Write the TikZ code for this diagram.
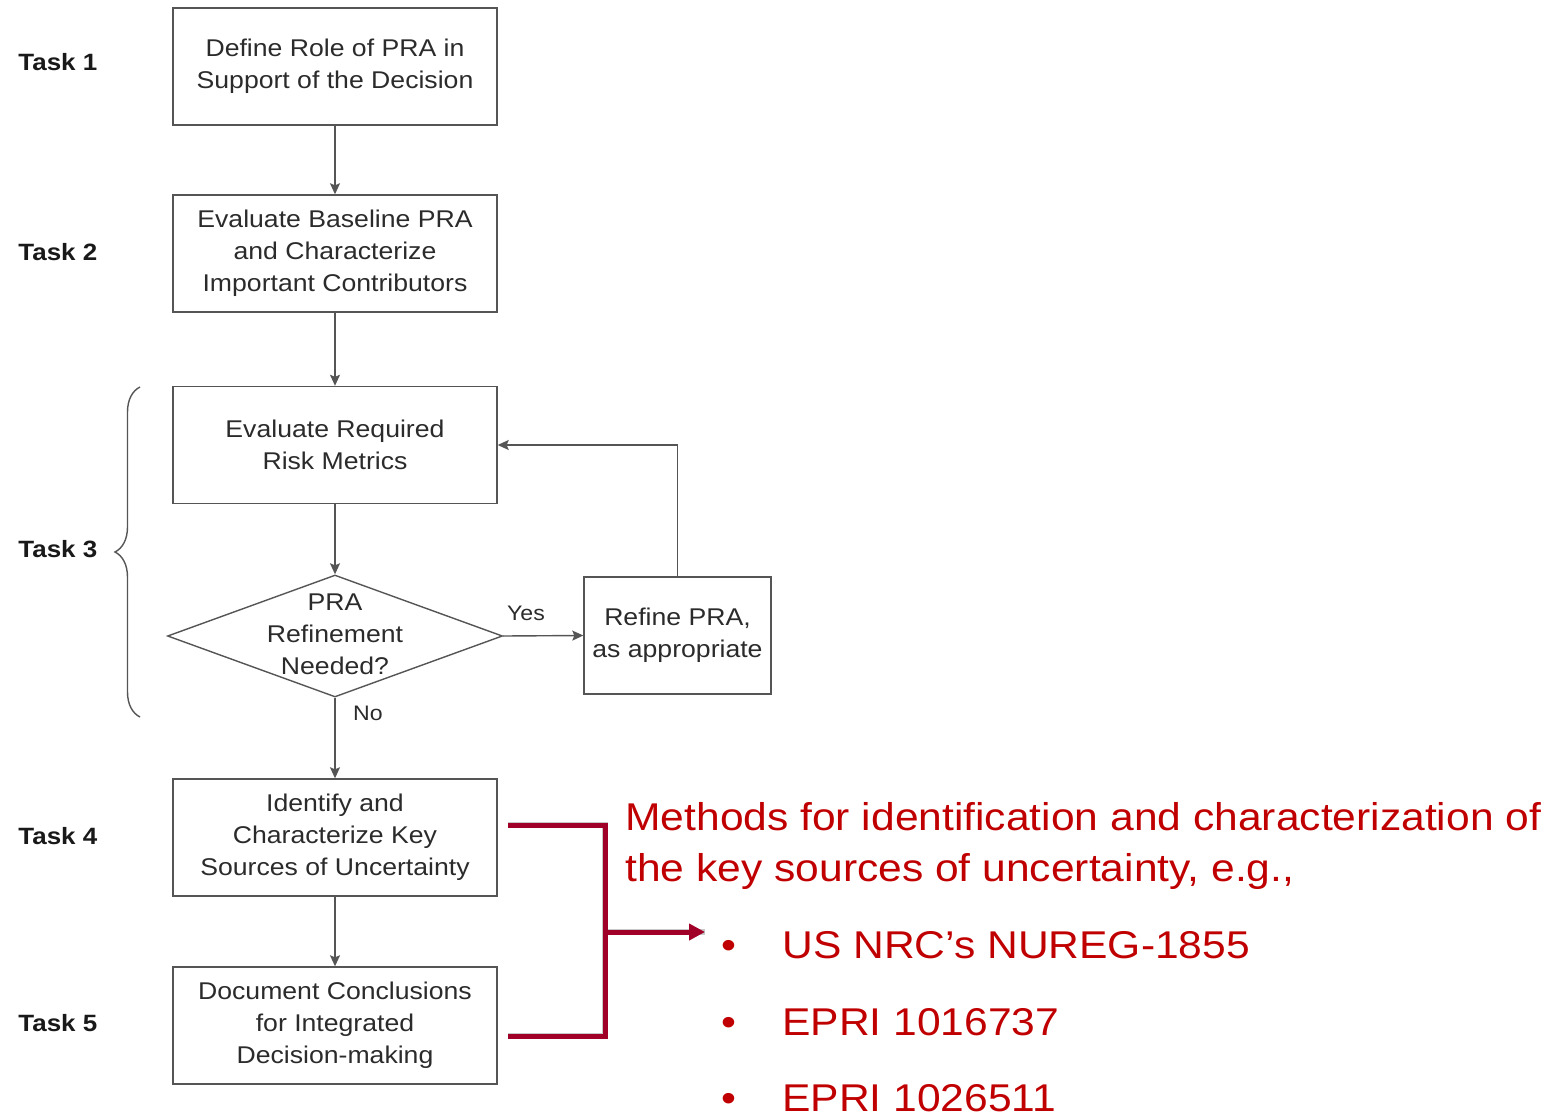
\documentclass[tikz,border=0pt]{standalone}
\usepackage{fontspec}
\setmainfont{Liberation Sans}[FakeStretch=1.1]
\usetikzlibrary{arrows.meta,shapes.geometric,decorations.pathreplacing}
\definecolor{boxline}{HTML}{555555}
\definecolor{boxtext}{HTML}{2B2B2B}
\definecolor{brk}{HTML}{A00028}
\definecolor{redtext}{HTML}{C00000}

\begin{document}
\begin{tikzpicture}[x=0.5pt,y=-0.5pt,
  stepbox/.style={draw=boxline, line width=0.7pt, minimum width=162pt,
    minimum height=58.5pt, inner sep=0pt, align=center, text=boxtext,
    font=\fontsize{12.1pt}{16pt}\selectfont},
  sidebox/.style={stepbox, minimum width=93.5pt},
  decision/.style={diamond, draw=boxline, line width=0.7pt,
    minimum width=167.5pt, minimum height=61pt, inner sep=0pt},
  intext/.style={align=center, text=boxtext, inner sep=0pt,
    font=\fontsize{12.1pt}{16pt}\selectfont},
  tasklabel/.style={anchor=west, inner sep=0pt, text=black!90,
    font=\bfseries\fontsize{11.8pt}{14pt}\selectfont},
  branch/.style={inner sep=0pt, text=boxtext, font=\fontsize{10.5pt}{12pt}\selectfont},
  flow/.style={draw=boxline, line width=0.7pt,
    -{Stealth[length=5.5pt,width=5pt,inset=1pt]}},
  redline/.style={draw=brk, line width=2.5pt},
  redshadow/.style={draw=black, opacity=0.22, line width=3pt},
  redtxt/.style={anchor=base west, inner sep=0pt, text=redtext,
    font=\fontsize{19.35pt}{24pt}\selectfont},
  bullet/.style={anchor=base, inner sep=0pt, text=redtext,
    font=\fontsize{19.35pt}{24pt}\selectfont}
]
\useasboundingbox (0,0) rectangle (1549,1114);
\clip (0,0) rectangle (1549,1114);

% task boxes
\node[stepbox] (t1) at (335,66.5) {Define Role of PRA in\\Support of the Decision};
\node[stepbox] (t2) at (335,253.5) {Evaluate Baseline PRA\\and Characterize\\Important Contributors};
\node[stepbox] (t3) at (335,445) {Evaluate Required\\Risk Metrics};
\node[decision] (d) at (335,636) {};
\node[intext] (dt) at (335,634) {PRA\\Refinement\\Needed?};
\node[sidebox] (ref) at (677.5,635.5) {Refine PRA,\\as appropriate};
\node[stepbox] (t4) at (335,837.5) {Identify and\\Characterize Key\\Sources of Uncertainty};
\node[stepbox] (t5) at (335,1025.5) {Document Conclusions\\for Integrated\\Decision-making};

% task labels
\node[tasklabel] (l1) at (18,62) {Task 1};
\node[tasklabel] (l2) at (18,252) {Task 2};
\node[tasklabel] (l3) at (18,549) {Task 3};
\node[tasklabel] (l4) at (18,836) {Task 4};
\node[tasklabel] (l5) at (18,1023) {Task 5};

% flow connectors
\draw[flow] (t1) -- (t2);
\draw[flow] (t2) -- (t3);
\draw[flow] (t3) -- (d);
\draw[flow] (d.east) -- (ref.west);
\draw[flow] (ref.north) |- (t3.east);
\draw[flow] (d.south) -- (t4);
\draw[flow] (t4) -- (t5);
\node[branch] (yes) at (526,613) {Yes};
\node[branch] (no) at (368,713) {No};

% brace grouping task 3
\coordinate (bb) at (140,717);
\coordinate (bt) at (140,387);
\draw[draw=boxline, line width=0.7pt, decorate,
  decoration={brace, amplitude=12.5pt}] (bb) -- (bt);

% red bracket to the method list
\coordinate (ra) at (508,825);
\coordinate (rb) at (605,825);
\coordinate (rc) at (605,1036);
\coordinate (rd) at (508,1036);
\coordinate (rm) at (605,932);
\coordinate (re) at (705,932);
\draw[redshadow, shift={(2,3)}] (ra) -- (rb) -- (rc) -- (rd);
\draw[redshadow, shift={(2,3)}] (rm) -- (re);
\draw[redline, line join=miter] (ra) -- (rb) -- (rc) -- (rd);
\draw[redline, -{Triangle[length=8pt,width=8pt]}] (rm) -- (re);

% method list
\node[redtxt] (m1) at (625,830) {Methods for identification and characterization of};
\node[redtxt] (m2) at (625,881) {the key sources of uncertainty, e.g.,};
\node[bullet] (b1) at (729,958) {•};
\node[bullet] (b2) at (729,1035) {•};
\node[bullet] (b3) at (729,1111) {•};
\node[redtxt] (i1) at (782,958) {US NRC’s NUREG-1855};
\node[redtxt] (i2) at (782,1035) {EPRI 1016737};
\node[redtxt] (i3) at (782,1111) {EPRI 1026511};
\end{tikzpicture}
\end{document}
